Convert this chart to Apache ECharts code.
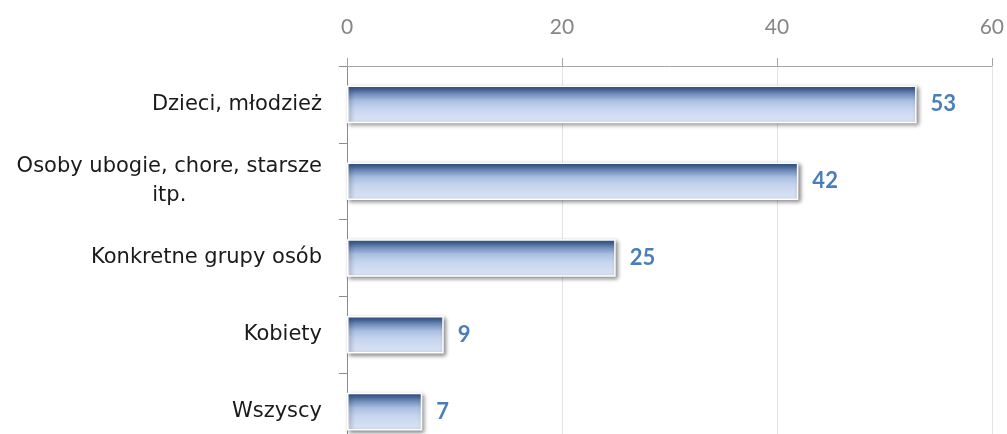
<!DOCTYPE html>
<html><head><meta charset="utf-8">
<script src="https://cdn.jsdelivr.net/npm/echarts@6/dist/echarts.min.js"></script>
<style>html,body{margin:0;padding:0;background:#fff;overflow:hidden}#c{width:1007px;height:450px}</style>
</head><body><div id="c"></div>
<script>
const categories = ['Dzieci, młodzież', 'Osoby ubogie, chore, starsze\nitp.', 'Konkretne grupy osób', 'Kobiety', 'Wszyscy'];
const values = [53, 42, 25, 9, 7];
const axisMin = 0, axisMax = 60, axisStep = 20;

const chart = echarts.init(document.getElementById('c'));
chart.setOption({
  animation: false,
  grid: {left: 347, right: 15, top: 66, bottom: 0, containLabel: false},
  xAxis: {
    type: 'value', position: 'top', min: axisMin, max: axisMax, interval: axisStep,
    axisLine: {show: true, lineStyle: {color: '#a6a6a6', width: 1}},
    axisTick: {show: true, length: 8, lineStyle: {color: '#a6a6a6'}},
    axisLabel: {color: '#868686', fontFamily: 'Lato', fontSize: 21, margin: 28},
    splitLine: {show: true, lineStyle: {color: '#e3e3e3', width: 1}}
  },
  yAxis: {
    type: 'category', inverse: true, data: categories,
    axisLine: {show: true, lineStyle: {color: '#8c8c8c', width: 1}},
    axisTick: {show: true, length: 8, interval: 0, lineStyle: {color: '#8c8c8c'}},
    axisLabel: {
      color: '#1a1a1a', fontFamily: 'DejaVu Sans', fontSize: 21, margin: 25, interval: 0,
      formatter: function (v) { return v.split('\n').map(s => '{c|' + s + '}').join('\n'); },
      rich: {c: {align: 'center', fontFamily: 'DejaVu Sans', fontSize: 21, color: '#1a1a1a', lineHeight: 29}}
    },
    splitLine: {show: false}
  },
  series: [{
    type: 'bar', data: values, barWidth: '49%',
    itemStyle: {
      color: new echarts.graphic.LinearGradient(0, 0, 0, 1, [
        {offset: 0, color: '#2c5189'},
        {offset: 0.12, color: '#4f6fa3'},
        {offset: 0.4, color: '#a9bfe0'},
        {offset: 0.6, color: '#c5d4ee'},
        {offset: 1, color: '#dce5f5'}
      ]),
      borderColor: '#ffffff', borderWidth: 1.5,
      shadowColor: 'rgba(0,0,0,0.45)', shadowBlur: 4, shadowOffsetX: 2, shadowOffsetY: 2
    },
    label: {show: true, position: 'right', distance: 14, color: '#4a7ebb', fontFamily: 'Lato', fontWeight: 'bold', fontSize: 22}
  }]
});
</script></body></html>
